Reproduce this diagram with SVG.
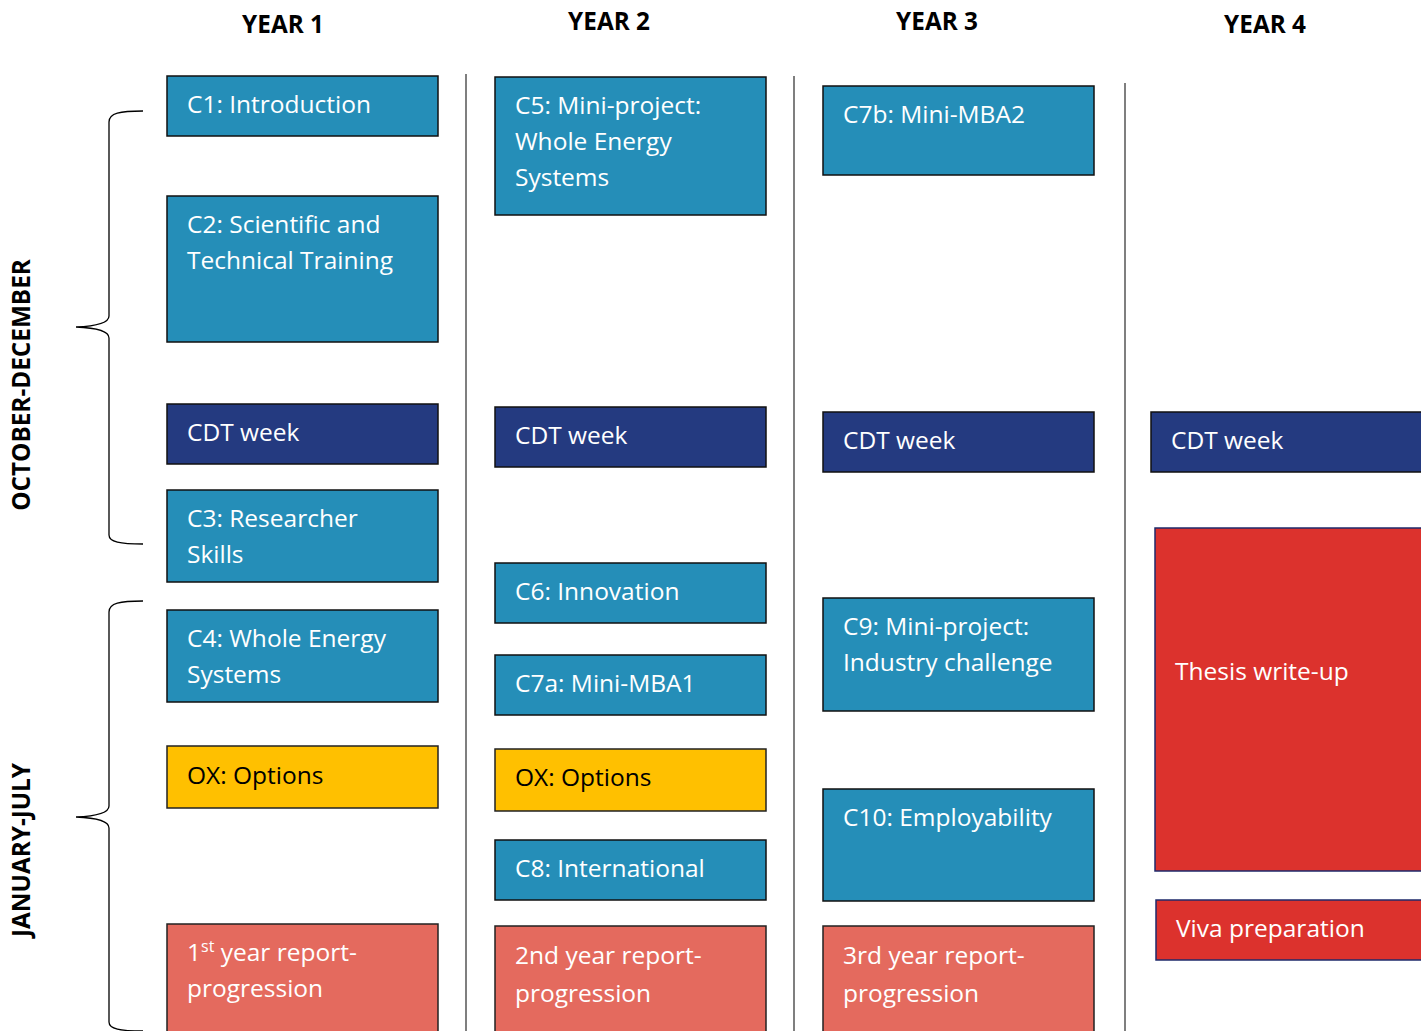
<svg xmlns="http://www.w3.org/2000/svg" width="1421" height="1031" viewBox="0 0 1421 1031">
<style>
.hdr{font-family:"Open Sans","Liberation Sans",sans-serif;font-weight:bold;font-size:24.3px;fill:#000;text-anchor:middle}
.side{font-family:"Open Sans","Liberation Sans",sans-serif;font-weight:bold;font-size:24.3px;fill:#000;text-anchor:middle}
.t{font-family:"Open Sans","Liberation Sans",sans-serif;font-size:24.5px;fill:#fff}
.tk{font-family:"Open Sans","Liberation Sans",sans-serif;font-size:24.5px;fill:#000}
.blue{fill:#258EB8;stroke:#111;stroke-width:1.5}
.navy{fill:#243A80;stroke:#111;stroke-width:1.5}
.gold{fill:#FFC000;stroke:#222;stroke-width:1.5}
.salmon{fill:#E46A5E;stroke:#222;stroke-width:1.5}
.red{fill:#DC322D;stroke:#1f2a6b;stroke-width:1.5}
.sep{stroke:#555;stroke-width:1.5;fill:none}
.brace{stroke:#000;stroke-width:1.3;fill:none}
</style>
<rect width="1421" height="1031" fill="#fff"/>
<g id="headers">
<text class="hdr" x="283" y="33">YEAR 1</text>
<text class="hdr" x="609" y="30">YEAR 2</text>
<text class="hdr" x="937" y="30">YEAR 3</text>
<text class="hdr" x="1265" y="33">YEAR 4</text>
</g>
<g id="side-labels">
<text class="side" transform="translate(30,385) rotate(-90)">OCTOBER-DECEMBER</text>
<text class="side" transform="translate(30,850) rotate(-90)">JANUARY-JULY</text>
</g>
<g id="connectors">
<line class="sep" x1="466" y1="74" x2="466" y2="1031"/>
<line class="sep" x1="794" y1="76" x2="794" y2="1031"/>
<line class="sep" x1="1125" y1="83" x2="1125" y2="1031"/>
<path class="brace" d="M143,111 C120,111 109,113 109,122 L109,316 C109,322 100,326 76,327 C100,328 109,332 109,338 L109,535 C109,542 120,544 143,544"/>
<path class="brace" d="M143,601 C120,601 109,603 109,612 L109,806 C109,812 100,816 76,817 C100,818 109,822 109,828 L109,1022 C109,1029 120,1031 143,1031"/>
</g>
<g id="c1"><rect class="blue" x="167" y="76" width="271" height="60"/><text class="t" x="187" y="113">C1: Introduction</text></g>
<g id="c2"><rect class="blue" x="167" y="196" width="271" height="146"/><text class="t" x="187" y="233">C2: Scientific and</text><text class="t" x="187" y="269">Technical Training</text></g>
<g id="cdt1"><rect class="navy" x="167" y="404" width="271" height="60"/><text class="t" x="187" y="441">CDT week</text></g>
<g id="c3"><rect class="blue" x="167" y="490" width="271" height="92"/><text class="t" x="187" y="527">C3: Researcher</text><text class="t" x="187" y="563">Skills</text></g>
<g id="c4"><rect class="blue" x="167" y="610" width="271" height="92"/><text class="t" x="187" y="647">C4: Whole Energy</text><text class="t" x="187" y="683">Systems</text></g>
<g id="ox1"><rect class="gold" x="167" y="746" width="271" height="62"/><text class="tk" x="187" y="784">OX: Options</text></g>
<g id="rep1"><rect class="salmon" x="167" y="924" width="271" height="120"/><text class="t" x="187" y="961">1<tspan font-size="16" dy="-9">st</tspan><tspan dy="9"> year report-</tspan></text><text class="t" x="187" y="997">progression</text></g>

<g id="c5"><rect class="blue" x="495" y="77" width="271" height="138"/><text class="t" x="515" y="114">C5: Mini-project:</text><text class="t" x="515" y="150">Whole Energy</text><text class="t" x="515" y="186">Systems</text></g>
<g id="cdt2"><rect class="navy" x="495" y="407" width="271" height="60"/><text class="t" x="515" y="444">CDT week</text></g>
<g id="c6"><rect class="blue" x="495" y="563" width="271" height="60"/><text class="t" x="515" y="600">C6: Innovation</text></g>
<g id="c7a"><rect class="blue" x="495" y="655" width="271" height="60"/><text class="t" x="515" y="692">C7a: Mini-MBA1</text></g>
<g id="ox2"><rect class="gold" x="495" y="749" width="271" height="62"/><text class="tk" x="515" y="786">OX: Options</text></g>
<g id="c8"><rect class="blue" x="495" y="840" width="271" height="60"/><text class="t" x="515" y="877">C8: International</text></g>
<g id="rep2"><rect class="salmon" x="495" y="926" width="271" height="120"/><text class="t" x="515" y="964">2nd year report-</text><text class="t" x="515" y="1002">progression</text></g>

<g id="c7b"><rect class="blue" x="823" y="86" width="271" height="89"/><text class="t" x="843" y="123">C7b: Mini-MBA2</text></g>
<g id="cdt3"><rect class="navy" x="823" y="412" width="271" height="60"/><text class="t" x="843" y="449">CDT week</text></g>
<g id="c9"><rect class="blue" x="823" y="598" width="271" height="113"/><text class="t" x="843" y="635">C9: Mini-project:</text><text class="t" x="843" y="671">Industry challenge</text></g>
<g id="c10"><rect class="blue" x="823" y="789" width="271" height="112"/><text class="t" x="843" y="826">C10: Employability</text></g>
<g id="rep3"><rect class="salmon" x="823" y="926" width="271" height="120"/><text class="t" x="843" y="964">3rd year report-</text><text class="t" x="843" y="1002">progression</text></g>

<g id="cdt4"><rect class="navy" x="1151" y="412" width="290" height="60"/><text class="t" x="1171" y="449">CDT week</text></g>
<g id="thesis"><rect class="red" x="1155" y="528" width="290" height="343"/><text class="t" x="1175" y="680">Thesis write-up</text></g>
<g id="viva"><rect class="red" x="1156" y="900" width="290" height="60"/><text class="t" x="1176" y="937">Viva preparation</text></g>
</svg>
